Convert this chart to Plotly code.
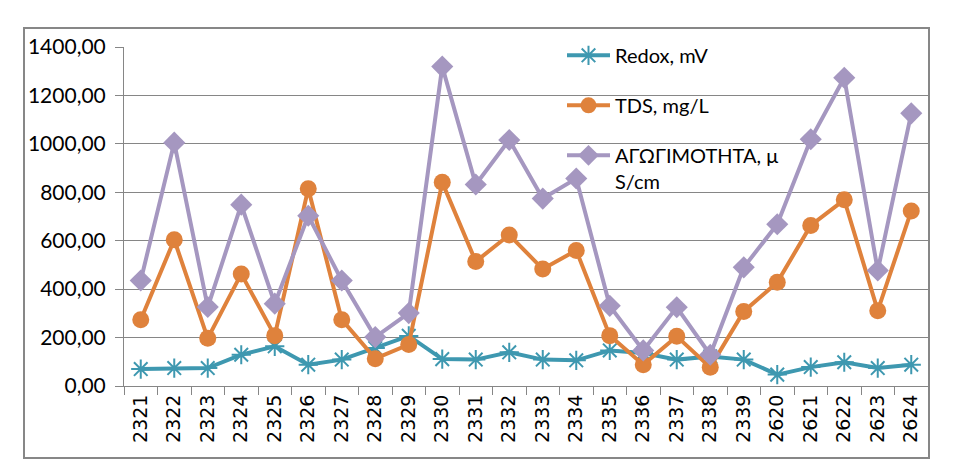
import plotly.graph_objects as go

categories = ["2321", "2322", "2323", "2324", "2325", "2326", "2327", "2328", "2329", "2330",
              "2331", "2332", "2333", "2334", "2335", "2336", "2337", "2338", "2339",
              "2620", "2621", "2622", "2623", "2624"]

redox = [70, 74, 74, 129, 164, 88, 109, 157, 207, 111,
         109, 139, 109, 106, 147, 136, 109, 122, 109,
         47, 78, 98, 74, 88]

tds = [274, 604, 197, 463, 208, 815, 274, 113, 171, 841,
       514, 624, 483, 560, 208, 88, 205, 77, 308,
       428, 663, 769, 311, 723]

conductivity = [436, 1005, 326, 749, 340, 703, 436, 202, 301, 1319,
                832, 1016, 774, 857, 331, 147, 325, 129, 490,
                668, 1019, 1273, 477, 1126]

y_ticks = [0, 200, 400, 600, 800, 1000, 1200, 1400]
y_tick_labels = ["0,00", "200,00", "400,00", "600,00", "800,00", "1000,00", "1200,00", "1400,00"]

names = ["Redox, mV", "TDS, mg/L", "ΑΓΩΓΙΜΟΤΗΤΑ, μ<br>S/cm"]

FONT = "Lato, 'Open Sans', sans-serif"
GRID = "#868686"

fig = go.Figure()
fig.add_trace(go.Scatter(
    x=categories, y=redox, name=names[0], mode="lines+markers", legendgroup="a",
    line=dict(color="#3E98B0", width=4),
    marker=dict(symbol="asterisk-open", size=16, color="#3E98B0",
                line=dict(color="#3E98B0", width=2)),
))
fig.add_trace(go.Scatter(
    x=categories, y=tds, name=names[1], mode="lines+markers", legendgroup="b",
    line=dict(color="#DF823C", width=4),
    marker=dict(symbol="circle", size=17, color="#DF823C"),
))
fig.add_trace(go.Scatter(
    x=categories, y=conductivity, name=names[2], mode="lines+markers", legendgroup="c",
    line=dict(color="#A597C0", width=4),
    marker=dict(symbol="diamond", size=17, color="#A597C0"),
))

# page body has an 8px default margin, so the margins compensate for it
fig.update_layout(
    width=957, height=467,
    margin=dict(l=116, r=37, t=39, b=89, autoexpand=False),
    paper_bgcolor="white", plot_bgcolor="white",
    font=dict(family=FONT, size=20, color="black"),
    showlegend=True,
    legend=dict(
        x=(562 - 124) / 804, y=1.033, xanchor="left", yanchor="top",
        bgcolor="rgba(0,0,0,0)", font=dict(size=20, family=FONT),
        tracegroupgap=21, valign="top", traceorder="grouped",
        itemwidth=43,
    ),
    xaxis=dict(
        type="category", tickangle=-90, showgrid=False, automargin=False,
        showline=True, linecolor=GRID, linewidth=1,
        ticks="outside", tickson="boundaries", ticklen=8, tickcolor=GRID,
        tickfont=dict(size=19, family="'DejaVu Sans', sans-serif"),
        range=[-0.5, len(categories) - 0.5], fixedrange=True,
    ),
    yaxis=dict(
        range=[0, 1400], tickvals=y_ticks, ticktext=y_tick_labels, automargin=False,
        showgrid=True, gridcolor=GRID, gridwidth=1,
        showline=True, linecolor=GRID, linewidth=1,
        ticks="outside", ticklen=8, tickcolor=GRID,
        ticklabelstandoff=5, zeroline=False,
        tickfont=dict(size=21, family=FONT),
    ),
    shapes=[dict(
        type="rect", xref="paper", yref="paper",
        x0=(24 - 124) / 804, x1=(929 - 124) / 804,
        y0=(386 - 458) / 339, y1=(386 - 28) / 339,
        line=dict(color="#878787", width=2), fillcolor="rgba(0,0,0,0)", layer="below",
    )],
)

fig.write_html("out.html")
